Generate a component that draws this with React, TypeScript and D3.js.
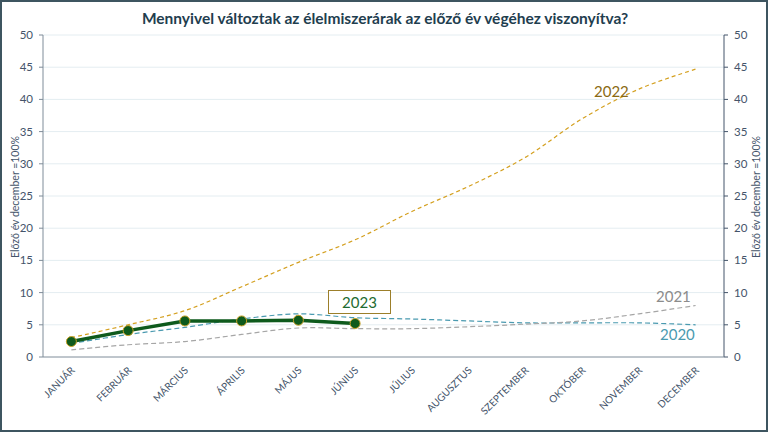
import React from "react";
import * as d3 from "d3";

const W = 768;
const H = 432;
const MARGIN = { top: 35, right: 44, bottom: 75, left: 43 };

const months = [
  "JANUÁR", "FEBRUÁR", "MÁRCIUS", "ÁPRILIS", "MÁJUS", "JÚNIUS",
  "JÚLIUS", "AUGUSZTUS", "SZEPTEMBER", "OKTÓBER", "NOVEMBER", "DECEMBER",
];
const yTicks = [0, 5, 10, 15, 20, 25, 30, 35, 40, 45, 50];

const values2020 = [2.1, 3.5, 4.6, 5.9, 6.7, 6.1, 5.9, 5.6, 5.3, 5.3, 5.3, 5.0];
const values2021 = [1.1, 1.9, 2.4, 3.5, 4.5, 4.4, 4.4, 4.7, 5.1, 5.6, 6.7, 8.0];
const values2022 = [3.0, 5.0, 7.2, 10.9, 14.7, 18.2, 22.6, 26.5, 31.0, 37.0, 41.6, 44.7];
const values2023 = [2.4, 4.1, 5.6, 5.6, 5.7, 5.2];

const dashedSeries = [
  { name: "2020", values: values2020, color: "#4A9AB0", dash: "5,3", label: { x: 660, y: 340, color: "#4A9AB0" } },
  { name: "2021", values: values2021, color: "#A6A6A6", dash: "5,3", label: { x: 656, y: 302, color: "#8C8C8C" } },
  { name: "2022", values: values2022, color: "#D4A020", dash: "4,3", label: { x: 594, y: 97, color: "#8A6A14" } },
];

export default function App() {
  const innerW = W - MARGIN.left - MARGIN.right;
  const innerH = H - MARGIN.top - MARGIN.bottom;

  const x = d3.scalePoint<string>().domain(months).range([0, innerW]).padding(0.5);
  const y = d3.scaleLinear().domain([0, 50]).range([innerH, 0]);

  const smooth = d3.line<number>()
    .x((_, i) => x(months[i]) as number)
    .y(d => y(d))
    .curve(d3.curveCatmullRom.alpha(0.5));

  const straight = d3.line<number>()
    .x((_, i) => x(months[i]) as number)
    .y(d => y(d));

  const font = "Lato, 'Open Sans', sans-serif";
  const axisColor = "#44546A";

  return (
    <svg width={W} height={H} style={{ position: "absolute", left: 0, top: 0, fontFamily: font }}>
      <rect x={1} y={1} width={W - 2} height={H - 2} fill="#fff" stroke="#3E5560" strokeWidth={2} />
      <text x={W / 2 + 1} y={24} textAnchor="middle" fontSize={15.5} fontWeight="bold" fill="#1F3E4F">
        Mennyivel változtak az élelmiszerárak az előző év végéhez viszonyítva?
      </text>

      <g transform={`translate(${MARGIN.left},${MARGIN.top})`}>
        {yTicks.filter(t => t > 0).map(t => (
          <line key={t} x1={0} x2={innerW} y1={y(t)} y2={y(t)} stroke="#E4EDF1" strokeWidth={1} />
        ))}

        {/* left axis */}
        <line x1={0} x2={0} y1={0} y2={innerH} stroke="#7F8C99" />
        {yTicks.map(t => (
          <g key={t} transform={`translate(0,${y(t)})`}>
            <line x1={-4} x2={0} stroke="#7F8C99" />
            <text x={-10} dy="0.35em" textAnchor="end" fontSize={11.5} fill={axisColor}>{t}</text>
          </g>
        ))}
        {/* right axis */}
        <line x1={innerW} x2={innerW} y1={0} y2={innerH} stroke="#44546A" />
        {yTicks.map(t => (
          <g key={"r" + t} transform={`translate(${innerW},${y(t)})`}>
            <line x1={0} x2={4} stroke="#44546A" />
            <text x={10} dy="0.35em" textAnchor="start" fontSize={11.5} fill={axisColor}>{t}</text>
          </g>
        ))}
        {/* bottom axis */}
        <line x1={0} x2={innerW} y1={innerH} y2={innerH} stroke="#7F8C99" />
        {months.map(m => (
          <text
            key={m}
            transform={`translate(${(x(m) as number) + 4},${innerH + 14}) rotate(-45)`}
            textAnchor="end"
            fontSize={10}
            fill={axisColor}
          >
            {m}
          </text>
        ))}

        {dashedSeries.map(s => (
          <path key={s.name} d={smooth(s.values) || ""} fill="none" stroke={s.color} strokeWidth={1.2} strokeDasharray={s.dash} />
        ))}

        <path d={straight(values2023) || ""} fill="none" stroke="#0E5A1C" strokeWidth={3.5} />
        {values2023.map((v, i) => (
          <circle key={i} cx={x(months[i]) as number} cy={y(v)} r={5} fill="#0E5A1C" stroke="#C9A227" strokeWidth={1} />
        ))}
      </g>

      {dashedSeries.map(s => (
        <text key={s.name} x={s.label.x} y={s.label.y} fontSize={15} fill={s.label.color}>{s.name}</text>
      ))}

      <rect x={328.5} y={290.5} width={62} height={23} fill="#fff" stroke="#9C7F2A" strokeWidth={1} />
      <text x={359.5} y={308} textAnchor="middle" fontSize={15} fill="#1E6B30">2023</text>

      <text transform="translate(19,197) rotate(-90)" textAnchor="middle" fontSize={10.5} fill={axisColor}>
        Előző év december =100%
      </text>
      <text transform="translate(760,197) rotate(-90)" textAnchor="middle" fontSize={10.5} fill={axisColor}>
        Előző év december =100%
      </text>
    </svg>
  );
}
